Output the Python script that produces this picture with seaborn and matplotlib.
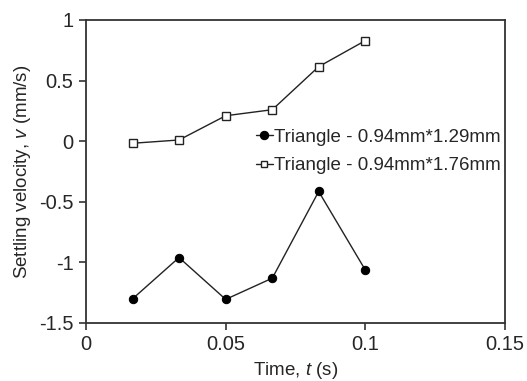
import numpy as np
import pandas as pd
import matplotlib
matplotlib.use("Agg")
import matplotlib.pyplot as plt
import seaborn as sns

time_s = [0.0167, 0.0333, 0.05, 0.0667, 0.0833, 0.1]
v_129 = [-1.30, -0.96, -1.305, -1.13, -0.415, -1.063]
v_176 = [-0.017, 0.01, 0.21, 0.26, 0.615, 0.83]
label_129 = "Triangle - 0.94mm*1.29mm"
label_176 = "Triangle - 0.94mm*1.76mm"
xticks = [0, 0.05, 0.1, 0.15]
xtick_labels = ["0", "0.05", "0.1", "0.15"]
yticks = [-1.5, -1, -0.5, 0, 0.5, 1]
ytick_labels = ["-1.5", "-1", "-0.5", "0", "0.5", "1"]

sns.set_theme(style="white")
plt.rcParams['font.family'] = ['Liberation Sans', 'DejaVu Sans']
plt.rcParams['mathtext.fontset'] = 'custom'
plt.rcParams['mathtext.rm'] = 'Liberation Sans'
plt.rcParams['mathtext.it'] = 'Liberation Sans:italic'

df = pd.DataFrame({
    "t": time_s * 2,
    "v": v_129 + v_176,
    "series": [label_129] * len(time_s) + [label_176] * len(time_s),
})

fig = plt.figure(figsize=(5.27, 3.81), dpi=100)
ax = fig.add_axes([86/527, 1 - 323/381, (505-86)/527, (323-20)/381])

sns.lineplot(data=df, x="t", y="v", hue="series", style="series",
             palette={label_129: "#222222", label_176: "#222222"},
             markers={label_129: "o", label_176: "s"}, dashes=False,
             ax=ax, linewidth=1.0, markersize=6, estimator=None, sort=False)

for line in ax.lines:
    if line.get_marker() == "s":
        line.set_markerfacecolor("white")
        line.set_markeredgecolor("#222222")
        line.set_markeredgewidth(1.0)
        line.set_markersize(5.5)
    elif line.get_marker() == "o":
        line.set_markerfacecolor("black")
        line.set_markeredgecolor("black")
        line.set_markersize(6)

ax.set_xlim(0, 0.15)
ax.set_ylim(-1.5, 1)
ax.set_xticks(xticks)
ax.set_xticklabels(xtick_labels, fontsize=14.5)
ax.set_yticks(yticks)
ax.set_yticklabels(ytick_labels, fontsize=14.5)
ax.tick_params(direction="out", length=5, width=1.2, color="#333333",
               bottom=True, left=True, top=False, right=False, pad=4)
for s in ax.spines.values():
    s.set_color("#333333")
    s.set_linewidth(1.3)

ax.set_xlabel(r"Time, $\it{t}$ (s)", fontsize=13.5, labelpad=4)
ax.set_ylabel(r"Settling velocity, $\it{v}$ (mm/s)", fontsize=13.5, labelpad=4)

leg = ax.legend(loc="upper right", bbox_to_anchor=(1.0, (323-125)/303), frameon=False,
                fontsize=13.5, handlelength=0.9, handletextpad=0.1,
                borderaxespad=0.1, labelspacing=0.6, borderpad=0.1)
for h in leg.legend_handles:
    if h.get_marker() == "s":
        h.set_markerfacecolor("white")
        h.set_markeredgecolor("#222222")
        h.set_markersize(5)
    else:
        h.set_markersize(6)
    h.set_linewidth(1.0)

fig.savefig("out.png", dpi=100)
